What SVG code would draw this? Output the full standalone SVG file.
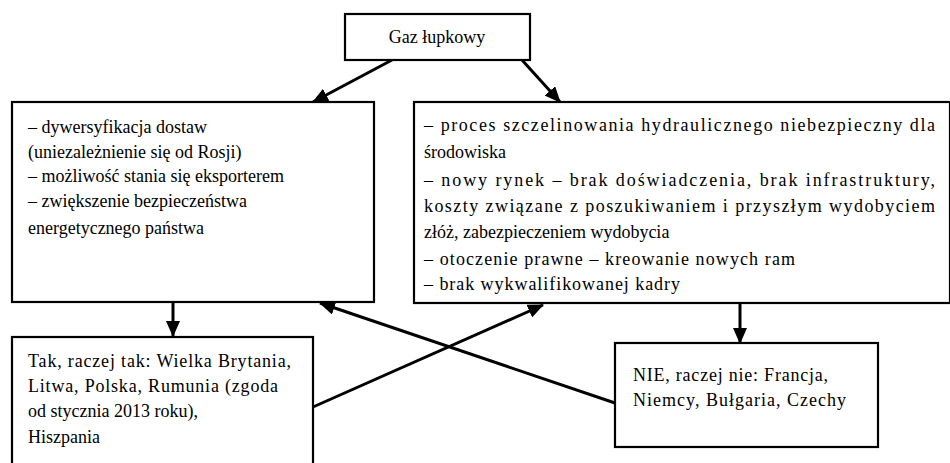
<svg xmlns="http://www.w3.org/2000/svg" width="950" height="463" viewBox="0 0 950 463">
  <defs>
    <marker id="arr" markerUnits="userSpaceOnUse" markerWidth="16" markerHeight="14" viewBox="0 0 16 14" refX="15" refY="7" orient="auto">
      <path d="M0,0 L16,7 L0,14 Z" fill="#000"/>
    </marker>
    <style>
      .box { fill: #fff; stroke: #000; stroke-width: 2.2; }
      .t { font-family: "Liberation Serif", "Times New Roman", serif; font-size: 18px; fill: #000; }
      .c { stroke: #000; stroke-width: 3; fill: none; marker-end: url(#arr); }
    </style>
  </defs>
  <rect width="950" height="463" fill="#fff"/>

  <g id="connectors">
    <line class="c" x1="392" y1="60" x2="313" y2="102"/>
    <line class="c" x1="522" y1="60" x2="560" y2="102"/>
    <line class="c" x1="173" y1="302" x2="173" y2="336"/>
    <line class="c" x1="740" y1="303" x2="740" y2="343"/>
    <line class="c" x1="313" y1="407" x2="543" y2="305"/>
    <line class="c" x1="615" y1="403" x2="320" y2="303"/>
  </g>

  <g id="gaz">
    <rect class="box" x="345" y="14" width="185" height="46"/>
    <text class="t" x="437" y="43" text-anchor="middle">Gaz łupkowy</text>
  </g>

  <g id="zalety">
    <rect class="box" x="12" y="102" width="362" height="200"/>
    <text class="t" x="28" y="133">– dywersyfikacja dostaw</text>
    <text class="t" x="28" y="158">(uniezależnienie się od Rosji)</text>
    <text class="t" x="28" y="182">– możliwość stania się eksporterem</text>
    <text class="t" x="28" y="207">– zwiększenie bezpieczeństwa</text>
    <text class="t" x="28" y="234">energetycznego państwa</text>
  </g>

  <g id="wady">
    <rect class="box" x="414" y="102" width="536" height="201"/>
    <text class="t" x="424" y="131" textLength="511" lengthAdjust="spacing">– proces szczelinowania hydraulicznego niebezpieczny dla</text>
    <text class="t" x="424" y="158">środowiska</text>
    <text class="t" x="424" y="186" textLength="511" lengthAdjust="spacing">– nowy rynek – brak doświadczenia, brak infrastruktury,</text>
    <text class="t" x="424" y="212" textLength="511" lengthAdjust="spacing">koszty związane z poszukiwaniem i przyszłym wydobyciem</text>
    <text class="t" x="424" y="238">złóż, zabezpieczeniem wydobycia</text>
    <text class="t" x="424" y="265" textLength="371" lengthAdjust="spacing">– otoczenie prawne – kreowanie nowych ram</text>
    <text class="t" x="424" y="290" textLength="256" lengthAdjust="spacing">– brak wykwalifikowanej kadry</text>
  </g>

  <g id="tak">
    <rect class="box" x="12" y="337" width="301" height="140"/>
    <text class="t" x="28" y="367" textLength="263" lengthAdjust="spacing">Tak, raczej tak: Wielka Brytania,</text>
    <text class="t" x="28" y="392" textLength="250" lengthAdjust="spacing">Litwa, Polska, Rumunia (zgoda</text>
    <text class="t" x="28" y="417">od stycznia 2013 roku),</text>
    <text class="t" x="28" y="443">Hiszpania</text>
  </g>

  <g id="nie">
    <rect class="box" x="615" y="343" width="263" height="104"/>
    <text class="t" x="633" y="381" textLength="195" lengthAdjust="spacing">NIE, raczej nie: Francja,</text>
    <text class="t" x="633" y="406" textLength="213" lengthAdjust="spacing">Niemcy, Bułgaria, Czechy</text>
  </g>
</svg>
